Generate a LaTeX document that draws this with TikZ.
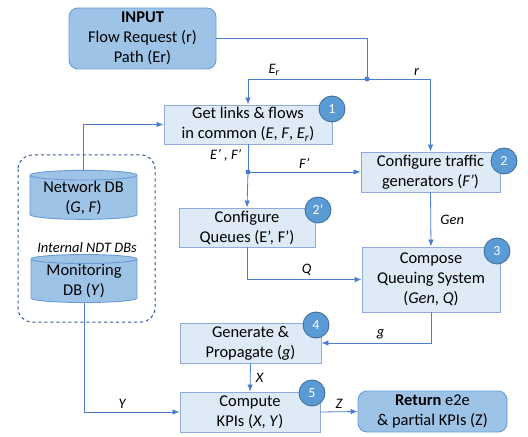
\documentclass[tikz,border=0pt]{standalone}
\usepackage{fontspec}
\setmainfont{Carlito}
\usetikzlibrary{positioning,shapes.geometric,arrows.meta}
\definecolor{boxfill}{HTML}{DEEBF7}
\definecolor{boxline}{HTML}{8FAADC}
\definecolor{darkfill}{HTML}{9DC3E6}
\definecolor{darkline}{HTML}{6A9BD8}
\definecolor{badgefill}{HTML}{5B9BD5}
\definecolor{badgeline}{HTML}{41719C}
\definecolor{wire}{HTML}{4A7CD0}
\definecolor{dashline}{HTML}{2F5597}
\tikzset{
  stepbox/.style={draw=boxline,fill=boxfill,line width=0.9bp,align=center,
    inner sep=0pt,font=\fontsize{16.5}{20}\selectfont},
  iobox/.style={draw=darkline,fill=darkfill,line width=0.9bp,rounded corners=9bp,
    align=center,inner sep=0pt,font=\fontsize{16.5}{20}\selectfont},
  dbcyl/.style={cylinder,shape border rotate=90,aspect=0.12,draw=darkline,
    fill=darkfill,line width=0.9bp,align=center,inner sep=0pt,
    font=\fontsize{16.5}{20}\selectfont},
  badge/.style={circle,draw=badgeline,fill=badgefill,text=white,line width=0.9bp,
    minimum size=26bp,inner sep=0pt,font=\fontsize{14}{15}\selectfont},
  wirelabel/.style={font=\fontsize{14.5}{16}\selectfont\itshape},
  link/.style={draw=wire,line width=0.8bp},
  dot/.style={circle,fill=wire,inner sep=0pt,minimum size=5bp}
}
\begin{document}
\begin{tikzpicture}[x=1bp,y=-1bp,>={Latex[length=7bp,width=5.5bp]}]
  \useasboundingbox (0,0) rectangle (528,437);
  % Node: internal DBs frame
  \draw [dashline,dashed,line width=1bp,rounded corners=14bp] (18,155) rectangle (155,322);
  \node [wirelabel] (dblabel) at (87,248) {Internal NDT DBs};
  % Node: netdb
  \node [dbcyl,minimum width=107bp,minimum height=49bp] (netdb) at (83.5,197.5)
    {Network DB\\(\textit{G}, \textit{F})};
  % Node: mondb
  \node [dbcyl,minimum width=106bp,minimum height=48bp] (mondb) at (84,281)
    {Monitoring\\DB (\textit{Y})};
  % Node: input
  \node [iobox,minimum width=147bp,minimum height=61bp] (input) at (142.5,38.5)
    {\textbf{INPUT}\\Flow Request (r)\\Path (Er)};
  % Node: getlinks
  \node [stepbox,minimum width=168bp,minimum height=39bp] (getlinks) at (248,124.5)
    {Get links \& flows\\in common (\textit{E}, \textit{F}, \textit{E\textsubscript{r}})};
  % Node: trafgen
  \node [stepbox,minimum width=139bp,minimum height=40bp] (trafgen) at (430.5,172)
    {Configure traffic\\generators (\textit{F’})};
  % Node: queues
  \node [stepbox,minimum width=136bp,minimum height=39bp] (queues) at (247,227.5)
    {Configure\\Queues (E’, F’)};
  % Node: compose
  \node [stepbox,minimum width=138bp,minimum height=65bp] (compose) at (431,279.5)
    {Compose\\Queuing System\\(\textit{Gen}, \textit{Q})};
  % Node: propagate
  \node [stepbox,minimum width=141bp,minimum height=40bp] (propagate) at (250.5,343)
    {Generate \&\\Propagate (\textit{g})};
  % Node: kpis
  \node [stepbox,minimum width=140bp,minimum height=40bp] (kpis) at (250,412)
    {Compute\\KPIs (\textit{X}, \textit{Y})};
  % Node: output
  \node [iobox,minimum width=149bp,minimum height=41bp] (output) at (432.5,411.5)
    {\textbf{Return} e2e\\\& partial KPIs (Z)};
  % Node: badges
  \node [badge] (b1) at (332,109) {1};
  \node [badge] (b2) at (504,161) {2};
  \node [badge] (b2p) at (318,210) {2’};
  \node [badge] (b3) at (497,251) {3};
  \node [badge] (b4) at (316,325) {4};
  \node [badge] (b5) at (312,393) {5};
  % Node: junctions
  \coordinate (jin) at (367,79);
  \coordinate (jsplit) at (248,172);
  % Edge: input -> getlinks, trafgen
  \draw [link] (input.east) -| (jin);
  \draw [link,->] (jin) -| node [wirelabel,pos=0.39,above] {E\textsubscript{r}} (getlinks.north);
  \draw [link,->] (jin) -| node [wirelabel,pos=0.39,above] {r} (trafgen.north);
  \node [dot] at (jin) {};
  % Edge: netdb -> getlinks
  \draw [link,->] (netdb.north) |- (getlinks.west);
  % Edge: getlinks -> trafgen, queues
  \draw [link] (getlinks.south) -- node [wirelabel,pos=0.4,left=3bp] {E’ , F’} (jsplit);
  \draw [link,->] (jsplit) -- node [wirelabel,above] {F’} (trafgen.west);
  \draw [link,->] (jsplit) -- (queues.north);
  \node [dot] at (jsplit) {};
  % Edge: trafgen -> compose
  \draw [link,->] (trafgen.south) -- node [wirelabel,right=6bp] {Gen} (compose.north);
  % Edge: queues -> compose
  \draw [link,->] (queues.south) |- node [wirelabel,pos=0.76,above] {Q} (compose.west);
  % Edge: compose -> propagate
  \draw [link,->] (compose.south) |- node [wirelabel,pos=0.73,above] {g} (propagate.east);
  % Edge: propagate -> kpis
  \draw [link,->] (propagate.south) -- node [wirelabel,right=2bp] {X} (kpis.north);
  % Edge: mondb -> kpis
  \draw [link,->] (mondb.south) |- node [wirelabel,pos=0.7,above] {Y} (kpis.west);
  % Edge: kpis -> output
  \draw [link,->] (kpis.east) -- node [wirelabel,above] {Z} (output.west);
\end{tikzpicture}
\end{document}
